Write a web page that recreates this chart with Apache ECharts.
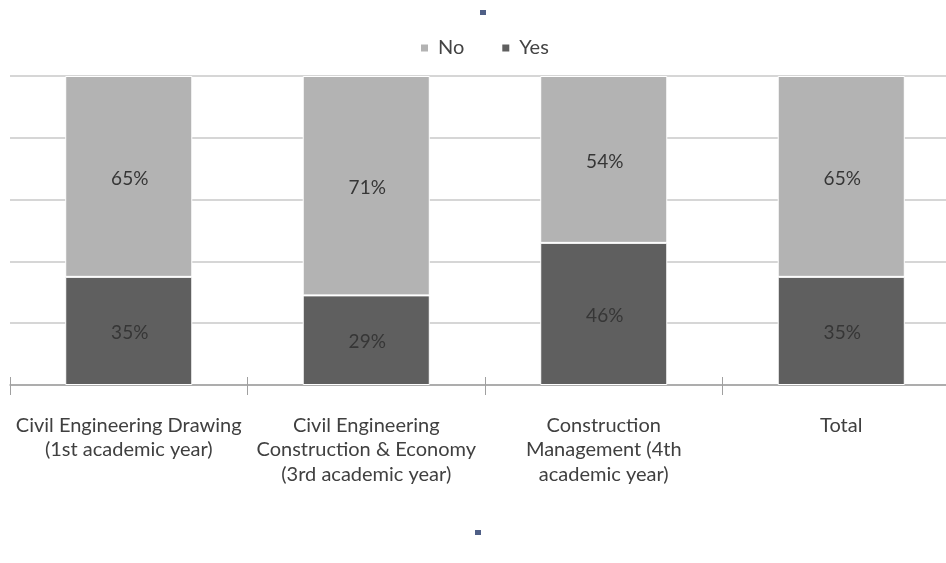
<!DOCTYPE html>
<html><head><meta charset="utf-8">
<script src="https://cdn.jsdelivr.net/npm/echarts@6/dist/echarts.min.js"></script>
<style>html,body{margin:0;padding:0;background:#fff}#c{width:946px;height:563px}</style>
</head><body><div id="c"></div>
<script>
const categories = [
  'Civil Engineering Drawing\n(1st academic year)',
  'Civil Engineering\nConstruction & Economy\n(3rd academic year)',
  'Construction\nManagement (4th\nacademic year)',
  'Total'
];
const yesValues = [35, 29, 46, 35];
const noValues = [65, 71, 54, 65];
const seriesNames = ['No', 'Yes'];

const chart = echarts.init(document.getElementById('c'), null, {renderer: 'canvas'});
const font = 'Lato, "Open Sans", sans-serif';
const lbl = {show: true, position: 'inside', formatter: p => p.value + '%', color: '#363636', fontSize: 19, fontFamily: font, offset: [1, 2]};
chart.setOption({
  animation: false,
  backgroundColor: '#fff',
  legend: {
    data: seriesNames, top: 33, left: 414, itemWidth: 9, itemHeight: 9, itemGap: 36,
    icon: 'rect', textStyle: {fontSize: 20, color: '#444', fontFamily: font, padding: [0, 0, 0, 4]}
  },
  grid: {left: 10, width: 950, top: 76, height: 309, outerBoundsMode: 'none', containLabel: false},
  xAxis: [{
    type: 'category', data: categories,
    axisLine: {lineStyle: {color: '#a0a0a0', width: 1.5}},
    axisTick: {show: true, length: 10, lineStyle: {color: '#a0a0a0'}},
    axisLabel: {fontSize: 20, color: '#404040', fontFamily: font, lineHeight: 24.5, margin: 28, interval: 0}
  }, {
    type: 'category', data: categories, position: 'bottom', offset: 0,
    axisLine: {show: false},
    axisTick: {show: true, inside: true, length: 8, lineStyle: {color: '#a0a0a0'}},
    axisLabel: {show: false}
  }],
  yAxis: {
    type: 'value', min: 0, max: 100, interval: 20,
    axisLabel: {show: false}, axisLine: {show: false}, axisTick: {show: false},
    splitLine: {lineStyle: {color: '#c8c8c8', width: 1.5}}
  },
  series: [
    {name: 'Yes', type: 'bar', stack: 'a', data: yesValues, barWidth: '53.5%',
     itemStyle: {color: '#5f5f5f', borderColor: '#fff', borderWidth: 1}, label: lbl},
    {name: 'No', type: 'bar', stack: 'a', data: noValues, barWidth: '53.5%',
     itemStyle: {color: '#b3b3b3', borderColor: '#fff', borderWidth: 1}, label: lbl}
  ],
  graphic: [
    {type: 'rect', shape: {x: 480, y: 10, width: 6, height: 5}, style: {fill: '#4f5f86'}},
    {type: 'rect', shape: {x: 475, y: 530, width: 6, height: 5}, style: {fill: '#4f5f86'}}
  ]
});
</script></body></html>
